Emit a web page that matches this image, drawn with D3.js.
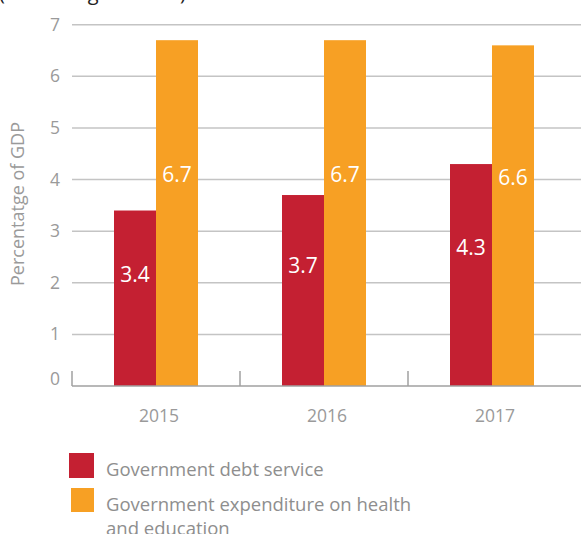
<!DOCTYPE html>
<html>
<head>
<meta charset="utf-8">
<script src="https://cdn.jsdelivr.net/npm/d3@7"></script>
<style>
  body { margin: 0; background: #fff; }
  svg { display: block; font-family: "Open Sans", sans-serif; }
</style>
</head>
<body>
<div id="chart"></div>
<script>
// chart data
var years = ["2015", "2016", "2017"];
var debtService = [3.4, 3.7, 4.3];
var healthEducation = [6.7, 6.7, 6.6];
var yTicks = [0, 1, 2, 3, 4, 5, 6, 7];
var seriesNames = ["Government debt service", "Government expenditure on health and education"];
var seriesColors = ["#c42032", "#f7a024"];

var svgWidth = 581;
var svgHeight = 534;

var svg = d3.select("#chart")
  .append("svg")
  .attr("width", svgWidth)
  .attr("height", svgHeight);

// scales
var xScale = d3.scaleBand()
  .domain(years)
  .range([72, 576]);

var yScale = d3.scaleLinear()
  .domain([0, 7])
  .range([386, 24.7]);

var groupWidth = xScale.bandwidth() / 2;
var xInner = d3.scaleBand()
  .domain([0, 1])
  .range([0, groupWidth]);

// title remnant cut off at the top
svg.append("text")
  .attr("x", -1)
  .attr("y", 0)
  .attr("font-size", 20)
  .attr("fill", "#222")
  .text("(Percentage of GDP)");

// gridlines
svg.append("g")
  .selectAll("line")
  .data(yTicks.filter(d => d > 0))
  .enter()
  .append("line")
  .attr("x1", 72)
  .attr("x2", svgWidth)
  .attr("y1", d => yScale(d))
  .attr("y2", d => yScale(d))
  .attr("stroke", "#c4c4c4")
  .attr("stroke-width", 1.5);

// y tick labels
var leftAxis = d3.axisLeft(yScale)
  .tickValues(yTicks)
  .tickFormat(d3.format("d"))
  .tickSize(0)
  .tickPadding(12);
var yAxisG = svg.append("g")
  .attr("transform", "translate(72,0)")
  .call(leftAxis);
yAxisG.select(".domain").remove();
yAxisG.selectAll("text")
  .attr("font-family", "Open Sans, sans-serif")
  .attr("font-size", 17.5)
  .attr("fill", "#9a9a9a")
  .attr("dy", d => d === 0 ? "-0.1em" : "0.32em");

// bars
var rows = years.map(function(y, i) {
  return { year: y, values: [debtService[i], healthEducation[i]] };
});

var groups = svg.selectAll(".yearGroup")
  .data(rows)
  .enter()
  .append("g")
  .attr("transform", d => `translate(${xScale(d.year) + (xScale.bandwidth() - groupWidth) / 2}, 0)`);

groups.selectAll("rect")
  .data(d => d.values)
  .enter()
  .append("rect")
  .attr("x", (d, i) => xInner(i))
  .attr("width", xInner.bandwidth())
  .attr("y", d => yScale(d))
  .attr("height", d => yScale(0) - yScale(d))
  .attr("fill", (d, i) => seriesColors[i]);

groups.selectAll(".barLabel")
  .data(d => d.values)
  .enter()
  .append("text")
  .attr("class", "barLabel")
  .attr("x", (d, i) => xInner(i) + xInner.bandwidth() / 2)
  .attr("y", d => yScale(d * 0.59))
  .attr("text-anchor", "middle")
  .attr("font-size", 21)
  .attr("fill", "#fff")
  .text(d => d.toFixed(1));

// bottom axis
var bottomAxis = d3.axisBottom(xScale).tickSize(0).tickPadding(24);
var xAxisG = svg.append("g")
  .attr("transform", "translate(0,386)")
  .call(bottomAxis);
xAxisG.select(".domain").remove();
xAxisG.selectAll("text")
  .attr("font-family", "Open Sans, sans-serif")
  .attr("font-size", 17.5)
  .attr("fill", "#9a9a9a")
  .attr("dx", 3);

svg.append("line")
  .attr("x1", 72)
  .attr("x2", svgWidth)
  .attr("y1", 386)
  .attr("y2", 386)
  .attr("stroke", "#a0a0a0")
  .attr("stroke-width", 1.5);

// tick marks pointing up at band edges
svg.append("g")
  .selectAll("line")
  .data(years)
  .enter()
  .append("line")
  .attr("x1", d => xScale(d))
  .attr("x2", d => xScale(d))
  .attr("y1", 371)
  .attr("y2", 386)
  .attr("stroke", "#a0a0a0")
  .attr("stroke-width", 1.5);

// y axis title
svg.append("text")
  .attr("transform", "translate(24,204) rotate(-90)")
  .attr("text-anchor", "middle")
  .attr("font-size", 18)
  .attr("fill", "#9a9a9a")
  .text("Percentatge of GDP");

// legend
var legend = svg.append("g");
legend.append("rect")
  .attr("x", 69).attr("y", 453)
  .attr("width", 25).attr("height", 25)
  .attr("fill", seriesColors[0]);
legend.append("rect")
  .attr("x", 71).attr("y", 488)
  .attr("width", 23).attr("height", 24)
  .attr("fill", seriesColors[1]);

legend.append("text")
  .attr("x", 106).attr("y", 476)
  .attr("font-size", 18.5)
  .attr("fill", "#8e8e8e")
  .text(seriesNames[0]);

var legText = legend.append("text")
  .attr("x", 106).attr("y", 511)
  .attr("font-size", 18.5)
  .attr("fill", "#8e8e8e");
legText.append("tspan").attr("x", 106).text("Government expenditure on health");
legText.append("tspan").attr("x", 106).attr("dy", 24).text("and education");
</script>
</body>
</html>
